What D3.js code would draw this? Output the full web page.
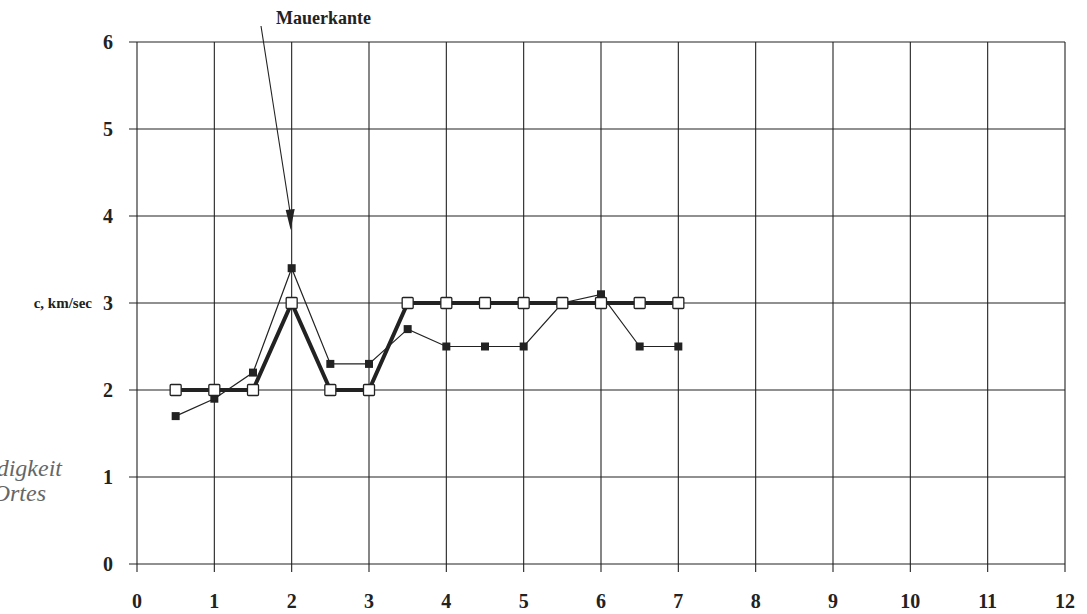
<!DOCTYPE html>
<html>
<head>
<meta charset="utf-8">
<script src="https://cdn.jsdelivr.net/npm/d3@7"></script>
<style>
  html, body { margin: 0; padding: 0; background: #fff; }
  svg { display: block; }
  text { font-family: "Liberation Serif", "Times New Roman", serif; fill: #222; }
</style>
</head>
<body>
<svg id="chart" width="1087" height="614"></svg>
<script>
// Measurement positions along the wall (x) and propagation speed c in km/sec
const positions = [0.5, 1, 1.5, 2, 2.5, 3, 3.5, 4, 4.5, 5, 5.5, 6, 6.5, 7];
const speedModel = [2, 2, 2, 3, 2, 2, 3, 3, 3, 3, 3, 3, 3, 3];
const speedMeasured = [1.7, 1.9, 2.2, 3.4, 2.3, 2.3, 2.7, 2.5, 2.5, 2.5, 3.0, 3.1, 2.5, 2.5];
const xTicks = [0, 1, 2, 3, 4, 5, 6, 7, 8, 9, 10, 11, 12];
const yTicks = [0, 1, 2, 3, 4, 5, 6];
const yAxisTitle = "c, km/sec";
const annotationText = "Mauerkante";
const annotationX = 2;
const sideNote = ["Geschwindigkeit", "des Ortes"];

const svg = d3.select("#chart");
const ink = "#222";

const x = d3.scaleLinear().domain([0, 12]).range([137, 1065]);
const y = d3.scaleLinear().domain([0, 6]).range([564, 42]);

// grid
const grid = svg.append("g");
grid.selectAll("line.v").data(xTicks).join("line")
  .attr("x1", d => x(d)).attr("x2", d => x(d))
  .attr("y1", y(6)).attr("y2", y(0) + 8)
  .attr("stroke", ink).attr("stroke-width", 1.1);
grid.selectAll("line.h").data(yTicks).join("line")
  .attr("x1", x(0) - 8).attr("x2", x(12))
  .attr("y1", d => y(d)).attr("y2", d => y(d))
  .attr("stroke", ink).attr("stroke-width", 1.1);

// tick labels
svg.append("g").selectAll("text").data(yTicks).join("text")
  .attr("x", 113).attr("y", d => y(d)).attr("dy", "0.35em")
  .attr("text-anchor", "end")
  .attr("font-size", 20).attr("font-weight", "bold")
  .text(d => d);
svg.append("g").selectAll("text").data(xTicks).join("text")
  .attr("x", d => x(d)).attr("y", 601).attr("dy", "0.35em")
  .attr("text-anchor", "middle")
  .attr("font-size", 20).attr("font-weight", "bold")
  .text(d => d);

// axis title
svg.append("text")
  .attr("x", 92).attr("y", y(3)).attr("dy", "0.35em")
  .attr("text-anchor", "end")
  .attr("font-size", 15).attr("font-weight", "bold")
  .text(yAxisTitle);

// side note (italic, runs off the left edge)
svg.append("g").selectAll("text").data(sideNote).join("text")
  .attr("x", (d, i) => i === 0 ? 62 : 46)
  .attr("y", (d, i) => 468 + i * 25).attr("dy", "0.35em")
  .attr("text-anchor", "end")
  .attr("font-size", 24).attr("font-style", "italic")
  .style("fill", "#666")
  .text(d => d);

const pts = (vals) => positions.map((p, i) => [p, vals[i]]);
const line = d3.line().x(d => x(d[0])).y(d => y(d[1]));

// measured series: thin line with filled squares
svg.append("path").datum(pts(speedMeasured))
  .attr("d", line).attr("fill", "none")
  .attr("stroke", ink).attr("stroke-width", 1.2);

// model series: heavy line
svg.append("path").datum(pts(speedModel))
  .attr("d", line).attr("fill", "none")
  .attr("stroke", ink).attr("stroke-width", 4)
  .attr("stroke-linejoin", "bevel");

svg.append("g").selectAll("rect").data(pts(speedMeasured)).join("rect")
  .attr("x", d => x(d[0]) - 4).attr("y", d => y(d[1]) - 4)
  .attr("width", 8).attr("height", 8)
  .attr("fill", ink);

svg.append("g").selectAll("rect").data(pts(speedModel)).join("rect")
  .attr("x", d => x(d[0]) - 5.5).attr("y", d => y(d[1]) - 5.5)
  .attr("width", 11).attr("height", 11).attr("rx", 1)
  .attr("fill", "#fff").attr("stroke", ink).attr("stroke-width", 1.3);

// annotation arrow
const tipX = x(annotationX) - 1, tipY = 230;
svg.append("line")
  .attr("x1", 261).attr("y1", 26).attr("x2", tipX).attr("y2", tipY - 14)
  .attr("stroke", ink).attr("stroke-width", 1.1);
svg.append("path")
  .attr("d", `M${tipX - 5},${tipY - 20} L${tipX + 4},${tipY - 21} L${tipX},${tipY} Z`)
  .attr("fill", ink);
svg.append("text")
  .attr("x", 276).attr("y", 18).attr("dy", "0.35em")
  .attr("font-size", 18).attr("font-weight", "bold")
  .text(annotationText);
</script>
</body>
</html>
